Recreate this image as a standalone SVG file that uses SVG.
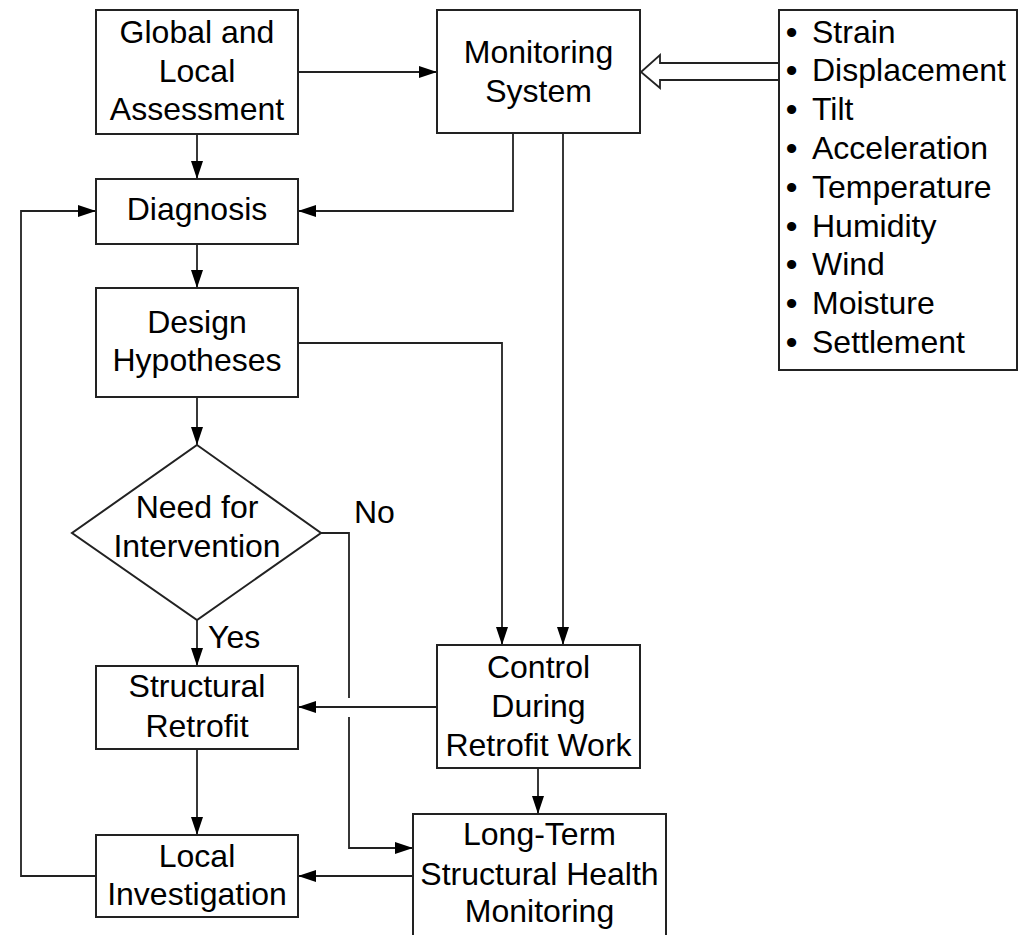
<svg xmlns="http://www.w3.org/2000/svg" width="1023" height="935" viewBox="0 0 1023 935">
<style>
.box{fill:#fff;stroke:#222;stroke-width:2}
.t{font-family:"Liberation Sans",Arial,sans-serif;font-size:32px;fill:#000;text-anchor:middle}
.l{font-family:"Liberation Sans",Arial,sans-serif;font-size:32px;fill:#000}
.bu{font-weight:bold}
.c{fill:none;stroke:#222;stroke-width:1.8}
</style>
<defs>
<marker id="ah" markerUnits="userSpaceOnUse" markerWidth="18" markerHeight="12" refX="18" refY="6" orient="auto">
<path d="M0,0 L18,6 L0,12 z" fill="#000"/>
</marker>
</defs>
<rect width="1023" height="935" fill="#fff"/>
<g id="connectors">
<path class="c" d="M298,72 H437" marker-end="url(#ah)"/>
<path class="c" d="M197,134 V179" marker-end="url(#ah)"/>
<path class="c" d="M513,133 V211 H298" marker-end="url(#ah)"/>
<path class="c" d="M197,244 V288" marker-end="url(#ah)"/>
<path class="c" d="M197,397 V445" marker-end="url(#ah)"/>
<path class="c" d="M298,343 H502 V645" marker-end="url(#ah)"/>
<path class="c" d="M563,133 V645" marker-end="url(#ah)"/>
<path class="c" d="M197,620 V666" marker-end="url(#ah)"/>
<path class="c" d="M437,707 H298" marker-end="url(#ah)"/>
<path class="c" d="M538,768 V814" marker-end="url(#ah)"/>
<path class="c" d="M197,749 V835" marker-end="url(#ah)"/>
<path class="c" d="M413,876 H298" marker-end="url(#ah)"/>
<path class="c" d="M321,533 H349 V698"/>
<path class="c" d="M349,717 V848 H413" marker-end="url(#ah)"/>
<path class="c" d="M96,876 H21 V211 H96" marker-end="url(#ah)"/>
<polygon points="779,63 660,63 660,55 641,72 660,88 660,80 779,80" fill="#fff" stroke="#222" stroke-width="1.8"/>
</g>
<g id="global">
<rect class="box" x="96" y="10" width="202" height="124"/>
<text class="t" x="197" y="43">Global and</text>
<text class="t" x="197" y="82">Local</text>
<text class="t" x="197" y="120">Assessment</text>
</g>
<g id="monitoring">
<rect class="box" x="437" y="10" width="203" height="123"/>
<text class="t" x="538.5" y="63">Monitoring</text>
<text class="t" x="538.5" y="102">System</text>
</g>
<g id="sensors">
<rect class="box" x="779" y="10" width="238" height="360"/>
<text class="l" y="42.5"><tspan class="bu" x="786">•</tspan><tspan x="812">Strain</tspan></text>
<text class="l" y="81.3"><tspan class="bu" x="786">•</tspan><tspan x="812">Displacement</tspan></text>
<text class="l" y="120.1"><tspan class="bu" x="786">•</tspan><tspan x="812">Tilt</tspan></text>
<text class="l" y="158.9"><tspan class="bu" x="786">•</tspan><tspan x="812">Acceleration</tspan></text>
<text class="l" y="197.7"><tspan class="bu" x="786">•</tspan><tspan x="812">Temperature</tspan></text>
<text class="l" y="236.5"><tspan class="bu" x="786">•</tspan><tspan x="812">Humidity</tspan></text>
<text class="l" y="275.3"><tspan class="bu" x="786">•</tspan><tspan x="812">Wind</tspan></text>
<text class="l" y="314.1"><tspan class="bu" x="786">•</tspan><tspan x="812">Moisture</tspan></text>
<text class="l" y="352.9"><tspan class="bu" x="786">•</tspan><tspan x="812">Settlement</tspan></text>
</g>
<g id="diagnosis">
<rect class="box" x="96" y="179" width="202" height="65"/>
<text class="t" x="197" y="220">Diagnosis</text>
</g>
<g id="design">
<rect class="box" x="96" y="288" width="202" height="109"/>
<text class="t" x="197" y="333">Design</text>
<text class="t" x="197" y="371">Hypotheses</text>
</g>
<g id="decision">
<polygon class="box" points="197,445 321,533 197,620 72,533"/>
<text class="t" x="197" y="518">Need for</text>
<text class="t" x="197" y="557">Intervention</text>
<text class="l" x="354" y="523">No</text>
<text class="l" x="208" y="648">Yes</text>
</g>
<g id="retrofit">
<rect class="box" x="96" y="666" width="202" height="83"/>
<text class="t" x="197" y="697">Structural</text>
<text class="t" x="197" y="737">Retrofit</text>
</g>
<g id="control">
<rect class="box" x="437" y="645" width="203" height="123"/>
<text class="t" x="538.5" y="678">Control</text>
<text class="t" x="538.5" y="717">During</text>
<text class="t" x="538.5" y="756">Retrofit Work</text>
</g>
<g id="local">
<rect class="box" x="96" y="835" width="202" height="82"/>
<text class="t" x="197" y="867">Local</text>
<text class="t" x="197" y="905">Investigation</text>
</g>
<g id="longterm">
<rect class="box" x="413" y="814" width="253" height="130"/>
<text class="t" x="539.5" y="845">Long-Term</text>
<text class="t" x="539.5" y="885">Structural Health</text>
<text class="t" x="539.5" y="922">Monitoring</text>
</g>
</svg>
